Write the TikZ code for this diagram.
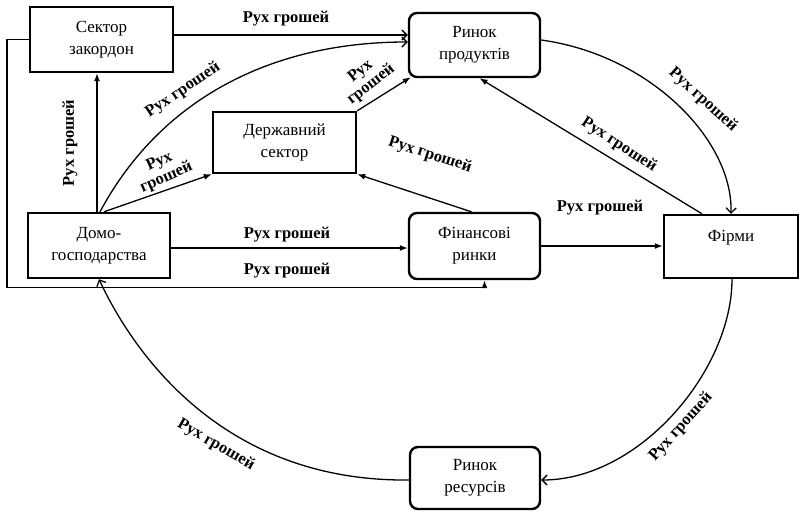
\documentclass[tikz,border=0pt]{standalone}
\usepackage{fontspec}
\setmainfont{Liberation Serif}
\usetikzlibrary{arrows.meta}
\begin{document}
\begin{tikzpicture}[x=1pt,y=-1pt,
  box/.style={draw, line width=2.4pt, align=center, inner sep=0pt, font=\fontsize{17}{22}\selectfont},
  rbox/.style={box, rounded corners=8pt},
  lab/.style={font=\bfseries\fontsize{16.5}{17}\selectfont, inner sep=0pt, align=center},
  conn/.style={line width=1.3pt},
  fa/.style={conn, -{Latex[length=8pt,width=6pt]}},
  oa/.style={conn, -{Straight Barb[length=5pt,width=10pt]}}
]
\useasboundingbox (0,0) rectangle (802,511);

% nodes
\node[box, minimum width=143pt, minimum height=65pt] (zak) at (101.5,39.5) {Сектор\\закордон};
\node[rbox, minimum width=131pt, minimum height=64pt] (prod) at (474.5,45) {Ринок\\продуктів};
\node[box, minimum width=143pt, minimum height=61pt] (derzh) at (284.5,142.5) {Державний\\сектор};
\node[box, minimum width=142pt, minimum height=65pt] (dom) at (99,245.5) {Домо-\\господарства};
\node[rbox, minimum width=131pt, minimum height=66pt] (fin) at (474.5,246) {Фінансові\\ринки};
\node[box, minimum width=134pt, minimum height=63pt] (firm) at (731,246.5) {Фірми\\\mbox{}};
\node[rbox, minimum width=130pt, minimum height=62pt] (res) at (475,478) {Ринок\\ресурсів};

% connectors
\draw[oa] ([yshift=4.5pt]zak.east) -- ([yshift=10pt]prod.west);
\draw[oa] ([xshift=1pt]dom.north) .. controls (160,100) and (270,42) .. ([yshift=3pt]prod.west);
\draw[fa] ([xshift=-2pt]dom.north) -- ([xshift=-4.5pt]zak.south);
\draw[fa] ([xshift=5pt]dom.north) -- (derzh.south west);
\draw[fa] (derzh.north east) -- ([xshift=3pt,yshift=1pt]prod.south west);
\draw[fa] ([xshift=-3pt]fin.north) -- (derzh.south east);
\draw[fa] ([yshift=-2.5pt]dom.east) -- ([yshift=-2pt]fin.west);
\draw[fa, line width=1.8pt] (zak.west) -- ++(-22,0) -- ++(0,248) -| ([xshift=10pt]fin.south);
\draw[fa] (fin.east) -- (fin.east -| firm.west);
\draw[oa] ([yshift=5pt]prod.east) .. controls (650,55) and (733,140) .. (firm.north);
\draw[fa] ([xshift=-29pt]firm.north) -- ([xshift=5pt]prod.south);
\draw[oa] ([xshift=1pt]firm.south) .. controls (732,370) and (640,480) .. ([yshift=-2pt]res.east);
\draw[oa] ([yshift=-2pt]res.west) .. controls (210,482) and (125,335) .. (dom.south);

% labels
\node[lab] (l1) at (286,19) {Рух грошей};
\node[lab, rotate=34] (l2) at (183,90) {Рух грошей};
\node[lab, rotate=90] (l3) at (70,143) {Рух грошей};
\node[lab, rotate=24] (l4) at (163,170) {Рух\\грошей};
\node[lab, rotate=38] (l5) at (366,78) {Рух\\грошей};
\node[lab, rotate=-18] (l6) at (430,155) {Рух грошей};
\node[lab] (l7) at (287,235) {Рух грошей};
\node[lab] (l8) at (287,271) {Рух грошей};
\node[lab] (l9) at (600,208) {Рух грошей};
\node[lab, rotate=-42] (l10) at (703,100) {Рух грошей};
\node[lab, rotate=-33] (l11) at (619,145) {Рух грошей};
\node[lab, rotate=48] (l12) at (681,427) {Рух грошей};
\node[lab, rotate=-30] (l13) at (216,445) {Рух грошей};
\end{tikzpicture}
\end{document}
